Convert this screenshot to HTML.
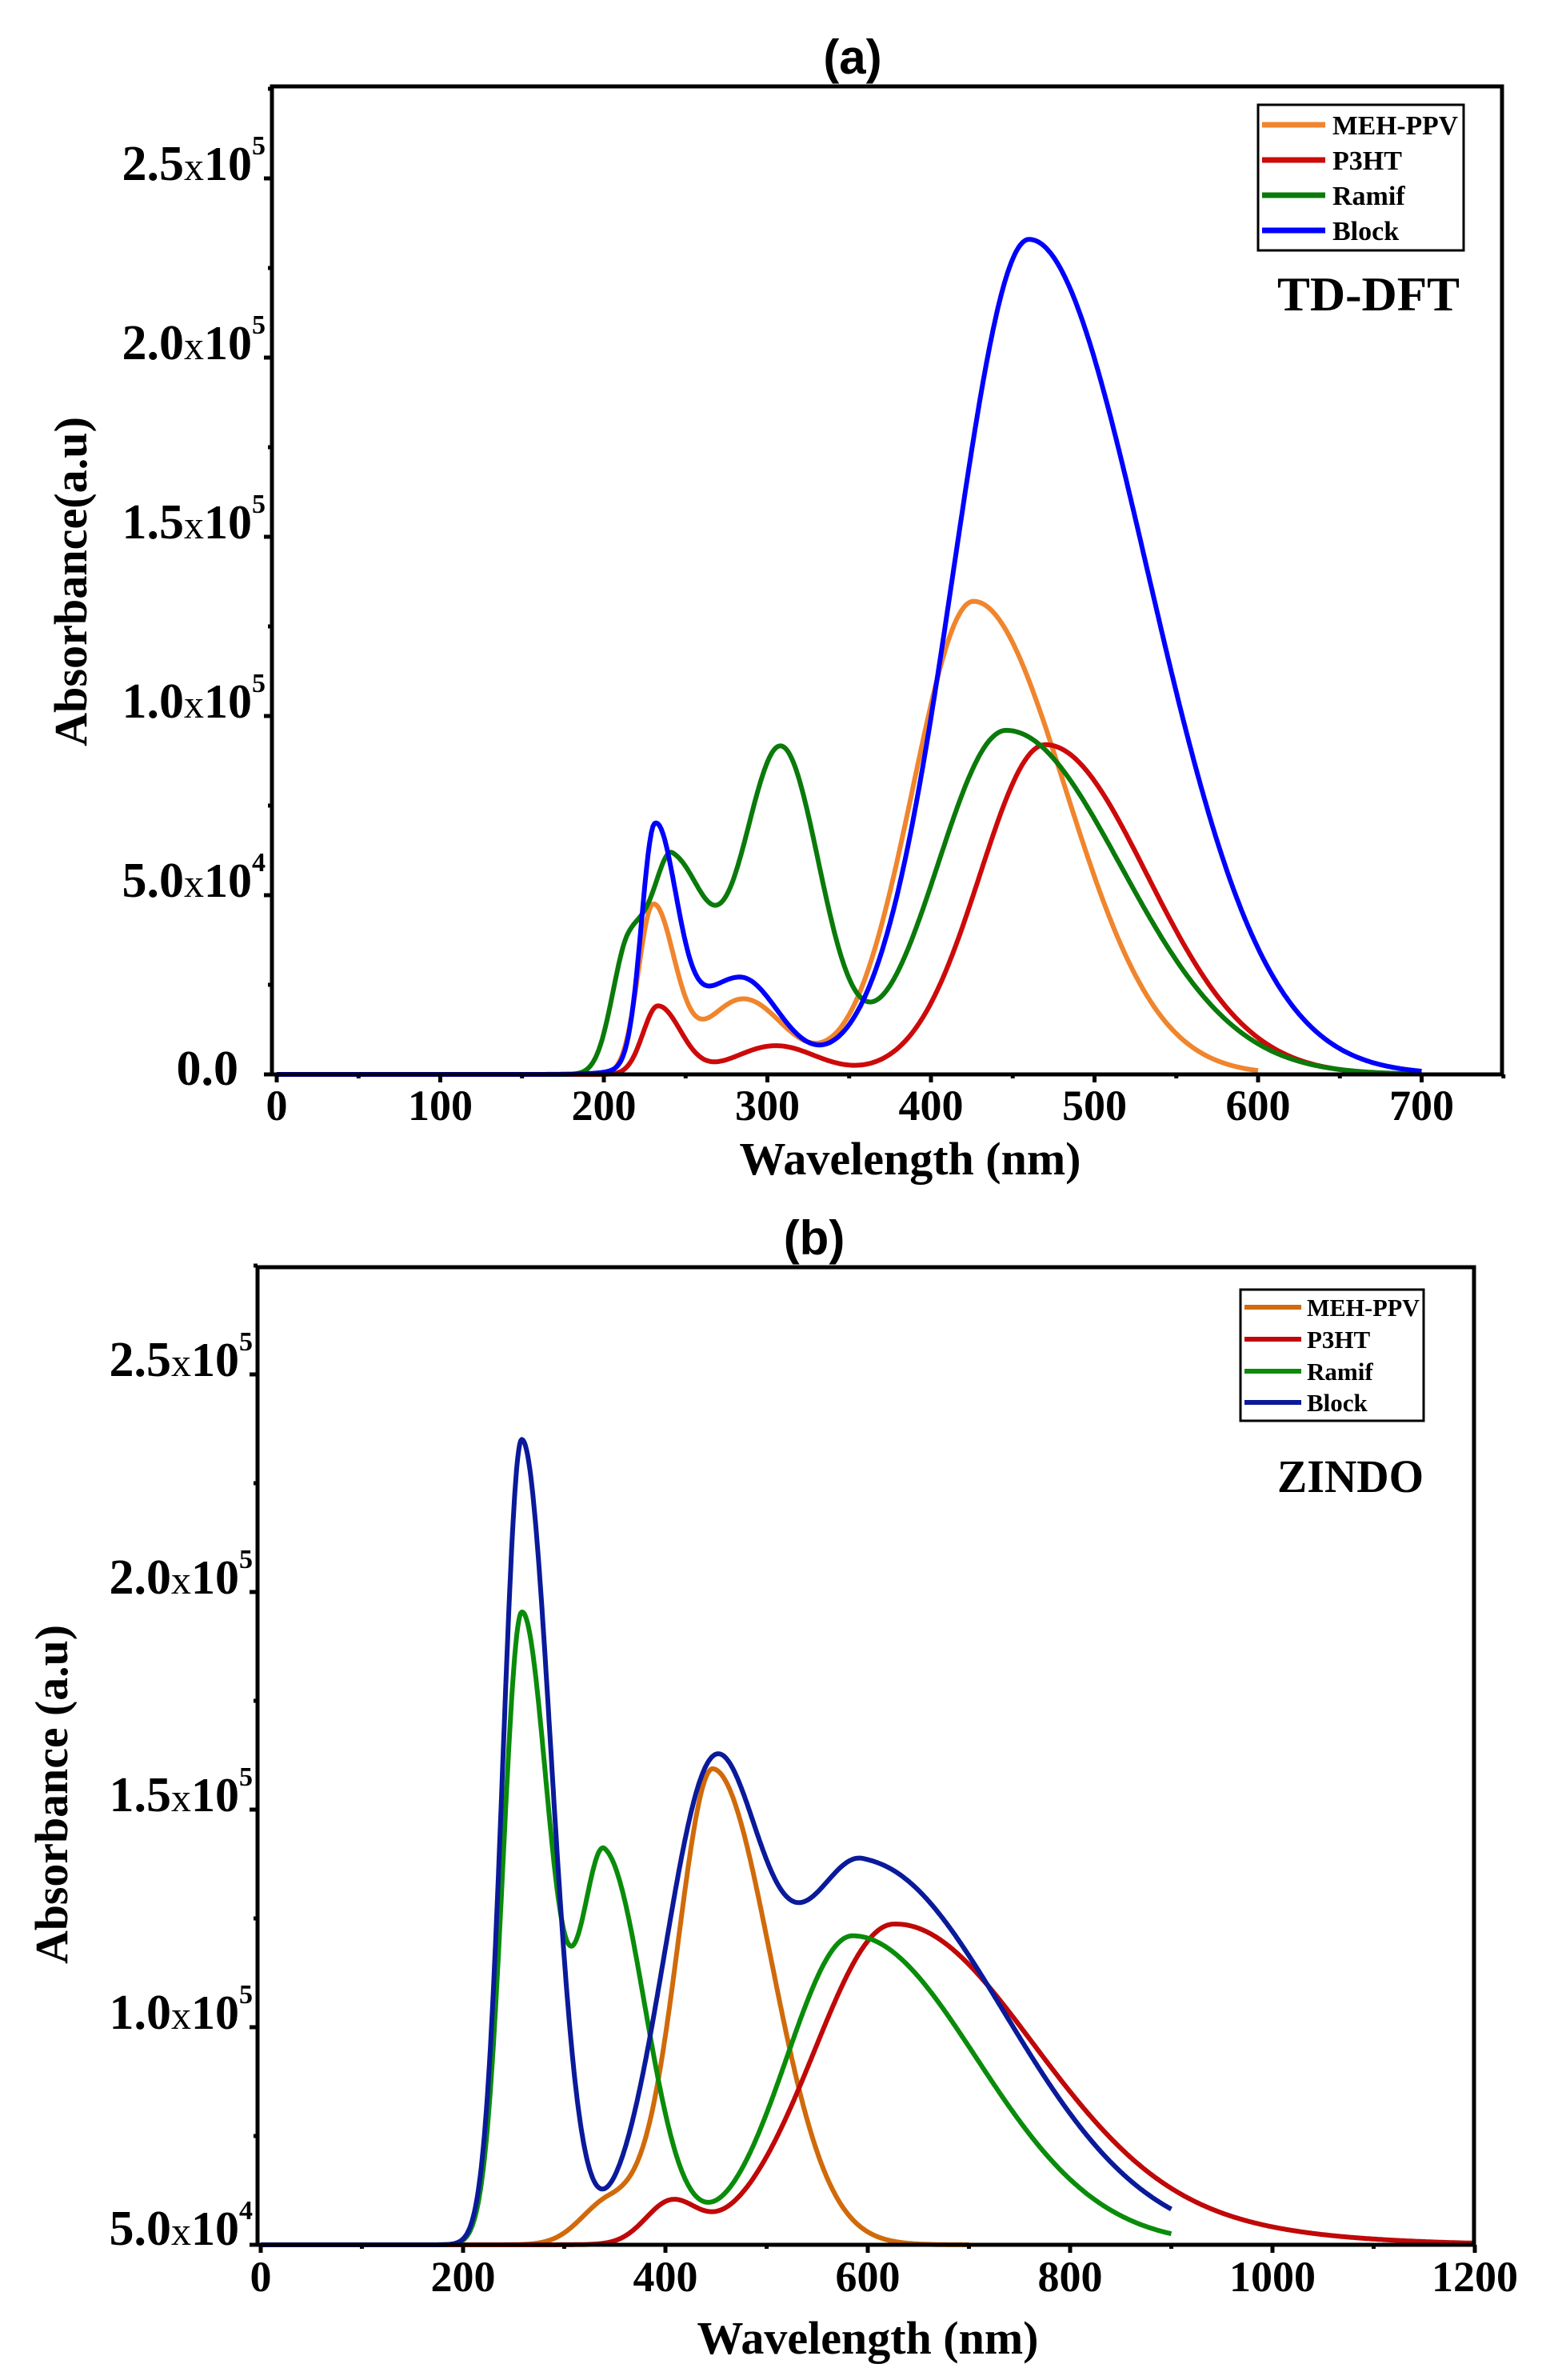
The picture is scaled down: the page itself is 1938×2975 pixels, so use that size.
<!DOCTYPE html>
<html><head><meta charset="utf-8">
<style>
html,body{margin:0;padding:0;background:#fff;}
svg{display:block;}
text{font-family:"Liberation Serif",serif;}
</style></head>
<body>
<svg id="s" xmlns="http://www.w3.org/2000/svg" width="1938" height="2975" viewBox="0 0 1938 2975">
<rect width="1938" height="2975" fill="#fff"/>
<text x="1066" y="92" text-anchor="middle" font-weight="bold" font-size="60" style="font-family:'Liberation Sans',sans-serif">(a)</text>
<text x="1018" y="1568" text-anchor="middle" font-weight="bold" font-size="60" style="font-family:'Liberation Sans',sans-serif">(b)</text>

<g id="curvesA"></g>
<g id="curvesB"></g>

<rect x="340" y="108" width="1538" height="1235" fill="none" stroke="#000" stroke-width="5"/>
<g id="ticksA" stroke="#000" stroke-width="5"></g>
<rect x="322" y="1584" width="1521" height="1222" fill="none" stroke="#000" stroke-width="5"/>
<g id="ticksB" stroke="#000" stroke-width="5"></g>

<g id="labels"></g>

<text x="1138" y="1468" text-anchor="middle" font-weight="bold" font-size="58">Wavelength (nm)</text>
<text x="1085" y="2942" text-anchor="middle" font-weight="bold" font-size="58">Wavelength (nm)</text>
<text transform="translate(108,727) rotate(-90)" text-anchor="middle" font-weight="bold" font-size="58" textLength="412" lengthAdjust="spacingAndGlyphs">Absorbance(a.u)</text>
<text transform="translate(84,2243) rotate(-90)" text-anchor="middle" font-weight="bold" font-size="58" textLength="424" lengthAdjust="spacingAndGlyphs">Absorbance (a.u)</text>

<rect x="1573" y="131" width="257" height="182" fill="#fff" stroke="#000" stroke-width="3"/>
<line x1="1578" y1="156" x2="1657" y2="156" stroke="#F0852D" stroke-width="7"/>
<line x1="1578" y1="200" x2="1657" y2="200" stroke="#CC0A0A" stroke-width="7"/>
<line x1="1578" y1="244" x2="1657" y2="244" stroke="#0A7A0A" stroke-width="7"/>
<line x1="1578" y1="288" x2="1657" y2="288" stroke="#0000FF" stroke-width="7"/>
<g font-weight="bold" font-size="34">
<text x="1666" y="168" textLength="157" lengthAdjust="spacingAndGlyphs">MEH-PPV</text>
<text x="1666" y="212">P3HT</text>
<text x="1666" y="256">Ramif</text>
<text x="1666" y="300">Block</text>
</g>
<text x="1597" y="388" font-weight="bold" font-size="60" textLength="228" lengthAdjust="spacingAndGlyphs">TD-DFT</text>

<rect x="1551" y="1612" width="229" height="164" fill="#fff" stroke="#000" stroke-width="3"/>
<line x1="1556" y1="1634" x2="1627" y2="1634" stroke="#D06A0A" stroke-width="6"/>
<line x1="1556" y1="1674" x2="1627" y2="1674" stroke="#C00808" stroke-width="6"/>
<line x1="1556" y1="1714" x2="1627" y2="1714" stroke="#0A8C0A" stroke-width="6"/>
<line x1="1556" y1="1753" x2="1627" y2="1753" stroke="#0A1A9A" stroke-width="6"/>
<g font-weight="bold" font-size="31">
<text x="1634" y="1645" textLength="141" lengthAdjust="spacingAndGlyphs">MEH-PPV</text>
<text x="1634" y="1685">P3HT</text>
<text x="1634" y="1725">Ramif</text>
<text x="1634" y="1764">Block</text>
</g>
<text x="1597" y="1865" font-weight="bold" font-size="58" textLength="183" lengthAdjust="spacingAndGlyphs">ZINDO</text>
</svg>
<script>
(function(){
var NS="http://www.w3.org/2000/svg";
function el(tag,attrs,parent,txt){var e=document.createElementNS(NS,tag);for(var k in attrs)e.setAttribute(k,attrs[k]);if(txt!=null)e.textContent=txt;parent.appendChild(e);return e;}
function f(w,comps){var s=0;for(var i=0;i<comps.length;i++){var c=comps[i];var d=w-c[0];var sg=d<0?c[2]:c[3];s+=c[1]*Math.exp(-d*d/(2*sg*sg));}return s;}
var xa=function(w){return 346+2.045*w;}, ya=function(v){return 1343-v*44.8;};
var A=[
 {col:"#F0852D",max:600,c:[[230,4.6,9,13],[285,2.1,24,25],[426,13.2,37,56]]},
 {col:"#CC0A0A",max:700,c:[[233,1.9,9,14],[305,0.8,25,25],[470,9.2,40,62]]},
 {col:"#0A7A0A",max:700,c:[[215,3.5,10,12],[242,5.7,12,20],[308,9.1,24,24],[446,9.6,42,70]]},
 {col:"#0000FF",max:700,c:[[231,6.4,8,13],[283,2.7,30,24],[460,23.3,46,72]]}
];
var gA=document.getElementById("curvesA");
A.forEach(function(s){var p="";for(var w=0;w<=s.max;w+=1){p+=(w?"L":"M")+xa(w).toFixed(1)+","+ya(f(w,s.c)).toFixed(1);}
 el("path",{d:p,fill:"none",stroke:s.col,"stroke-width":6,"stroke-linejoin":"round"},gA);});
var xb=function(w){return 326+1.265*w;}, yb=function(v){return 2806-v*54.4;};
var B=[
 {col:"#D06A0A",max:700,c:[[345,1.0,28,40],[447,10.9,35,57]]},
 {col:"#C00808",max:1200,c:[[405,0.9,25,25],[625,7.3,78,135],[850,0.4,120,160]]},
 {col:"#0A8C0A",max:900,c:[[258,14.5,18.5,28],[340,8.9,25,40],[585,7.1,65,122]]},
 {col:"#0A1A9A",max:900,c:[[258,18.5,18.5,29],[445,10.3,48,48],[595,8.8,70,140]]}
];
var gB=document.getElementById("curvesB");
B.forEach(function(s){var p="";for(var w=0;w<=s.max;w+=1){p+=(w?"L":"M")+xb(w).toFixed(1)+","+yb(f(w,s.c)).toFixed(1);}
 el("path",{d:p,fill:"none",stroke:s.col,"stroke-width":6,"stroke-linejoin":"round"},gB);});
var tA=document.getElementById("ticksA"), tB=document.getElementById("ticksB"), L=document.getElementById("labels");
for(var w=0;w<=750;w+=50){var x=xa(w);el("line",{x1:x,y1:1343,x2:x,y2:1343+(w%100?5:10)},tA);}
for(var v=0;v<=27.5;v+=2.5){var y=ya(v);el("line",{x1:340,y1:y,x2:340-((v%5)?5:10),y2:y},tA);}
for(var w=0;w<=1200;w+=100){var x=xb(w);el("line",{x1:x,y1:2806,x2:x,y2:2806+(w%200?5:10)},tB);}
for(var v=0;v<=22.5;v+=2.5){var y=yb(v);el("line",{x1:322,y1:y,x2:322-((v%5)?5:10),y2:y},tB);}
for(var w=0;w<=700;w+=100){el("text",{x:xa(w),y:1400,"text-anchor":"middle","font-weight":"bold","font-size":54},L,String(w));}
for(var w=0;w<=1200;w+=200){el("text",{x:xb(w),y:2864,"text-anchor":"middle","font-weight":"bold","font-size":54},L,String(w));}
function ylab(xr,y,m,e){var t=el("text",{x:xr,y:y,"text-anchor":"end"},L);
 el("tspan",{"font-weight":"bold","font-size":62},t,m);
 if(e){el("tspan",{"font-size":50},t,"x");el("tspan",{"font-size":60,"font-weight":"bold"},t,"10");el("tspan",{"font-size":34,"font-weight":"bold",dy:-32},t,e);}}
ylab(298,1356,"0.0",null);
ylab(332,ya(5)+2,"5.0","4");
ylab(332,ya(10)+2,"1.0","5");
ylab(332,ya(15)+2,"1.5","5");
ylab(332,ya(20)+2,"2.0","5");
ylab(332,ya(25)+2,"2.5","5");
ylab(316,2806,"5.0","4");
ylab(316,yb(5)+2,"1.0","5");
ylab(316,yb(10)+2,"1.5","5");
ylab(316,yb(15)+2,"2.0","5");
ylab(316,yb(20)+2,"2.5","5");
})();
</script>
</body></html>
